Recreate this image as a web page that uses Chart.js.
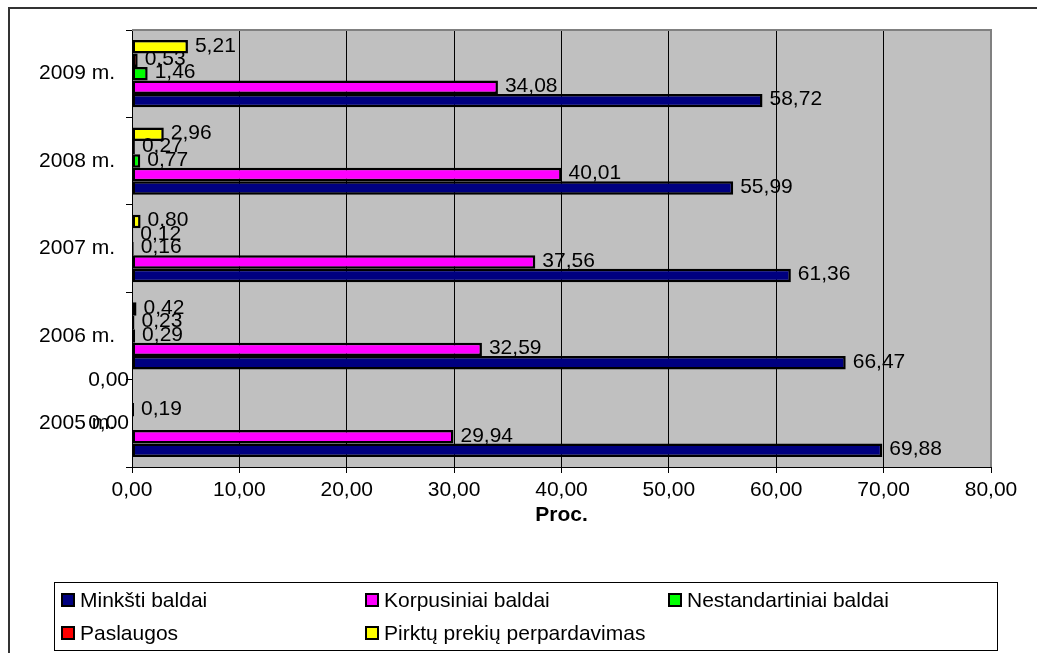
<!DOCTYPE html>
<html><head><meta charset="utf-8">
<script src="https://cdn.jsdelivr.net/npm/chart.js@4"></script>
<style>
html,body{margin:0;padding:0;background:#fff;}
#wrap{position:relative;width:1037px;height:653px;overflow:hidden;}
canvas{position:absolute;left:0;top:0;}
#legend{position:absolute;left:54px;top:582px;width:942px;height:67px;border:1px solid #000;font-family:"Liberation Sans",Arial,sans-serif;font-size:21px;color:#000;}
.item{position:absolute;display:flex;align-items:center;white-space:nowrap;height:25px;}
.sw{width:10px;height:10px;border:2px solid #000;margin-right:5px;}
</style></head>
<body><div id="wrap"><canvas id="c" width="1037" height="653"></canvas><div id="legend"></div></div>
<script>
const categories = ['2009 m.','2008 m.','2007 m.','2006 m.','2005 m.'];
const seriesNames = ['Minkšti baldai','Korpusiniai baldai','Nestandartiniai baldai','Paslaugos','Pirktų prekių perpardavimas'];
const minkstiBaldai = [58.72,55.99,61.36,66.47,69.88];
const korpusiniaiBaldai = [34.08,40.01,37.56,32.59,29.94];
const nestandartiniaiBaldai = [1.46,0.77,0.16,0.29,0.00];
const paslaugos = [0.53,0.27,0.12,0.23,0.19];
const pirktuPrekiu = [5.21,2.96,0.80,0.42,0.00];
const xTicks = [0,10,20,30,40,50,60,70,80];
const axisTitle = 'Proc.';
const colors = ['#000080','#FF00FF','#00FF00','#FF0000','#FFFF00'];

const FONT = '"Liberation Sans", Arial, sans-serif';
const FS = 21;
const seriesValues = [minkstiBaldai, korpusiniaiBaldai, nestandartiniaiBaldai, paslaugos, pirktuPrekiu];
const fmt = v => v.toFixed(2).replace('.', ',');

// draw order inside each category: top = last series
const datasets = seriesNames.map((n, i) => ({
  label: n, data: seriesValues[i], backgroundColor: colors[i],
  borderColor: '#000', borderWidth: 2.5, borderSkipped: false,
  categoryPercentage: 0.77, barPercentage: 1.0, seriesIndex: i
})).reverse();

const zeroShift = {4: -16};

const frame = {
  id: 'frame',
  beforeDraw(chart) {
    const {ctx, chartArea: a} = chart;
    ctx.save();
    ctx.fillStyle = '#C0C0C0';
    ctx.fillRect(a.left, a.top, a.right - a.left, a.bottom - a.top);
    ctx.strokeStyle = '#333';
    ctx.lineWidth = 2;
    ctx.beginPath();
    ctx.moveTo(9, 653); ctx.lineTo(9, 8); ctx.lineTo(1037, 8);
    ctx.stroke();
    ctx.restore();
  },
  afterDraw(chart) {
    const {ctx, chartArea: a} = chart;
    ctx.save();
    ctx.strokeStyle = '#808080';
    ctx.lineWidth = 2;
    ctx.beginPath();
    ctx.moveTo(a.left, a.top); ctx.lineTo(a.right, a.top); ctx.lineTo(a.right, a.bottom);
    ctx.stroke();
    ctx.restore();
  },
  afterDatasetsDraw(chart) {
    const ctx = chart.ctx;
    ctx.save();
    ctx.font = FS + 'px ' + FONT;
    ctx.fillStyle = '#000';
    ctx.textBaseline = 'middle';
    chart.data.datasets.forEach((ds, i) => {
      const meta = chart.getDatasetMeta(i);
      meta.data.forEach((bar, j) => {
        const v = ds.data[j];
        if (v > 0) {
          ctx.textAlign = 'left';
          ctx.fillText(fmt(v), bar.x + 7, bar.y - 1);
        } else {
          ctx.textAlign = 'right';
          ctx.fillText(fmt(v), bar.base - 3, bar.y + (zeroShift[ds.seriesIndex] || 0));
        }
      });
    });
    ctx.restore();
  }
};

new Chart(document.getElementById('c'), {
  type: 'bar',
  data: { labels: categories, datasets },
  options: {
    indexAxis: 'y',
    responsive: false, animation: false, devicePixelRatio: 1,
    layout: { padding: { left: 0, right: 46, top: 30, bottom: 121 } },
    plugins: { legend: { display: false }, tooltip: { enabled: false } },
    scales: {
      x: {
        min: 0, max: 80,
        afterBuildTicks: s => { s.ticks = xTicks.map(v => ({ value: v })); },
        afterFit: s => { s.height = 65; },
        ticks: { callback: v => fmt(v), color: '#000', font: { family: FONT, size: FS }, padding: 5, maxRotation: 0 },
        grid: { color: c => (c.tick && c.tick.value === 80) ? '#808080' : '#000', lineWidth: 1, tickLength: 6, tickColor: '#000' },
        border: { color: '#000', width: 1 },
        title: { display: true, text: axisTitle, color: '#000', font: { family: FONT, size: FS, weight: 'bold' }, padding: { top: 4, bottom: 4 } }
      },
      y: {
        afterFit: s => { s.width = 132; },
        ticks: { color: '#000', font: { family: FONT, size: FS }, padding: 11 },
        grid: { offset: true, drawOnChartArea: false, tickLength: 6, color: '#000' },
        border: { color: '#000', width: 1 }
      }
    }
  },
  plugins: [frame]
});

// legend (original series order)
const leg = document.getElementById('legend');
const colLeft = [6, 310, 613], rowTop = [4, 37];
seriesNames.forEach((n, i) => {
  const d = document.createElement('div');
  d.className = 'item';
  d.style.left = colLeft[i % 3] + 'px';
  d.style.top = rowTop[Math.floor(i / 3)] + 'px';
  d.innerHTML = '<span class="sw" style="background:' + colors[i] + '"></span><span></span>';
  d.lastChild.textContent = n;
  leg.appendChild(d);
});
</script>
</body></html>
